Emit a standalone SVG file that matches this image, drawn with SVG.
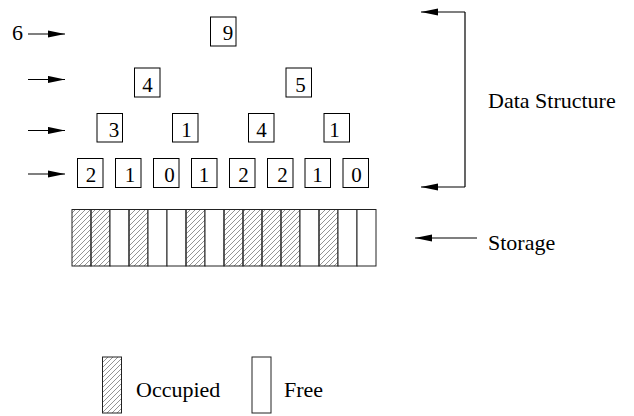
<svg xmlns="http://www.w3.org/2000/svg" width="634" height="416" viewBox="0 0 634 416">
<defs>
<marker id="ah" markerUnits="userSpaceOnUse" markerWidth="18" markerHeight="8" refX="17" refY="4" orient="auto">
<path d="M0,0.4 L17,4 L0,7.6 Z" fill="#000"/>
</marker>
<pattern id="hatch" patternUnits="userSpaceOnUse" width="5" height="5">
<path d="M-1,6 L6,-1 M-1,1 L1,-1 M4,6 L6,4" stroke="#666" stroke-width="0.7" fill="none"/>
</pattern>
</defs>
<rect width="634" height="416" fill="#fff"/>

<g id="connectors" stroke="#000" stroke-width="1.2" fill="none">
<line x1="28" y1="34" x2="65" y2="34" marker-end="url(#ah)"/>
<line x1="28" y1="79.5" x2="65" y2="79.5" marker-end="url(#ah)"/>
<line x1="28" y1="130.5" x2="65" y2="130.5" marker-end="url(#ah)"/>
<line x1="28" y1="174" x2="65" y2="174" marker-end="url(#ah)"/>
<line x1="465" y1="12" x2="465" y2="187"/>
<line x1="465" y1="12" x2="421" y2="12" marker-end="url(#ah)"/>
<line x1="465" y1="187" x2="421" y2="187" marker-end="url(#ah)"/>
<line x1="477" y1="238" x2="415" y2="238" marker-end="url(#ah)"/>
</g>

<g font-family="'Liberation Serif', 'Times New Roman', Times, serif" font-size="21" text-anchor="middle">
<text font-size="22" text-anchor="start" x="12" y="39.5">6</text>
<g id="n9"><rect fill="#fff" stroke="#000" x="210.5" y="17" width="25.5" height="29"/><text x="228" y="39.5">9</text></g>
<g id="n4a"><rect fill="#fff" stroke="#000" x="134.5" y="68" width="25.5" height="29"/><text x="147.5" y="91.5">4</text></g>
<g id="n5"><rect fill="#fff" stroke="#000" x="286" y="68" width="25.5" height="29"/><text x="300.5" y="91.5">5</text></g>
<g id="n3"><rect fill="#fff" stroke="#000" x="97" y="113.5" width="25.5" height="28.5"/><text x="114" y="136.5">3</text></g>
<g id="n1a"><rect fill="#fff" stroke="#000" x="172.5" y="113.5" width="25.5" height="28.5"/><text x="186.5" y="136.5">1</text></g>
<g id="n4b"><rect fill="#fff" stroke="#000" x="248.5" y="113.5" width="25.5" height="28.5"/><text x="261.5" y="136.5">4</text></g>
<g id="n1b"><rect fill="#fff" stroke="#000" x="324" y="113.5" width="25.5" height="28.5"/><text x="334.5" y="136.5">1</text></g>
<g id="l0"><rect fill="#fff" stroke="#000" x="77.5" y="158.5" width="25.5" height="29"/><text x="91" y="181.5">2</text></g>
<g id="l1"><rect fill="#fff" stroke="#000" x="115.5" y="158.5" width="25.5" height="29"/><text x="130" y="181.5">1</text></g>
<g id="l2"><rect fill="#fff" stroke="#000" x="153.5" y="158.5" width="25.5" height="29"/><text x="169.5" y="181.5">0</text></g>
<g id="l3"><rect fill="#fff" stroke="#000" x="191.5" y="158.5" width="25.5" height="29"/><text x="204" y="181.5">1</text></g>
<g id="l4"><rect fill="#fff" stroke="#000" x="229.5" y="158.5" width="25.5" height="29"/><text x="243.5" y="181.5">2</text></g>
<g id="l5"><rect fill="#fff" stroke="#000" x="267.5" y="158.5" width="25.5" height="29"/><text x="282.5" y="181.5">2</text></g>
<g id="l6"><rect fill="#fff" stroke="#000" x="305" y="158.5" width="25.5" height="29"/><text x="317.5" y="181.5">1</text></g>
<g id="l7"><rect fill="#fff" stroke="#000" x="343" y="158.5" width="25.5" height="29"/><text x="356.5" y="181.5">0</text></g>
</g>

<g id="storage" stroke="#222" stroke-width="1">
<rect fill="url(#hatch)" x="72" y="209.5" width="19" height="56.5"/>
<rect fill="url(#hatch)" x="91" y="209.5" width="19" height="56.5"/>
<rect fill="#fff" x="110" y="209.5" width="19" height="56.5"/>
<rect fill="url(#hatch)" x="129" y="209.5" width="19" height="56.5"/>
<rect fill="#fff" x="148" y="209.5" width="19" height="56.5"/>
<rect fill="#fff" x="167" y="209.5" width="19" height="56.5"/>
<rect fill="url(#hatch)" x="186" y="209.5" width="19" height="56.5"/>
<rect fill="#fff" x="205" y="209.5" width="19" height="56.5"/>
<rect fill="url(#hatch)" x="224" y="209.5" width="19" height="56.5"/>
<rect fill="url(#hatch)" x="243" y="209.5" width="19" height="56.5"/>
<rect fill="url(#hatch)" x="262" y="209.5" width="19" height="56.5"/>
<rect fill="url(#hatch)" x="281" y="209.5" width="19" height="56.5"/>
<rect fill="#fff" x="300" y="209.5" width="19" height="56.5"/>
<rect fill="url(#hatch)" x="319" y="209.5" width="19" height="56.5"/>
<rect fill="#fff" x="338" y="209.5" width="19" height="56.5"/>
<rect fill="#fff" x="357" y="209.5" width="19" height="56.5"/>
</g>

<g font-family="'Liberation Serif', 'Times New Roman', Times, serif" font-size="22">
<text x="488" y="108">Data Structure</text>
<text x="488" y="250">Storage</text>
</g>

<g id="legend" font-family="'Liberation Serif', 'Times New Roman', Times, serif" font-size="22">
<rect fill="url(#hatch)" stroke="#222" x="102.5" y="357" width="19" height="56"/>
<text x="136" y="396.5">Occupied</text>
<rect fill="#fff" stroke="#222" x="252" y="357" width="19" height="56"/>
<text x="284" y="396.5">Free</text>
</g>
</svg>
